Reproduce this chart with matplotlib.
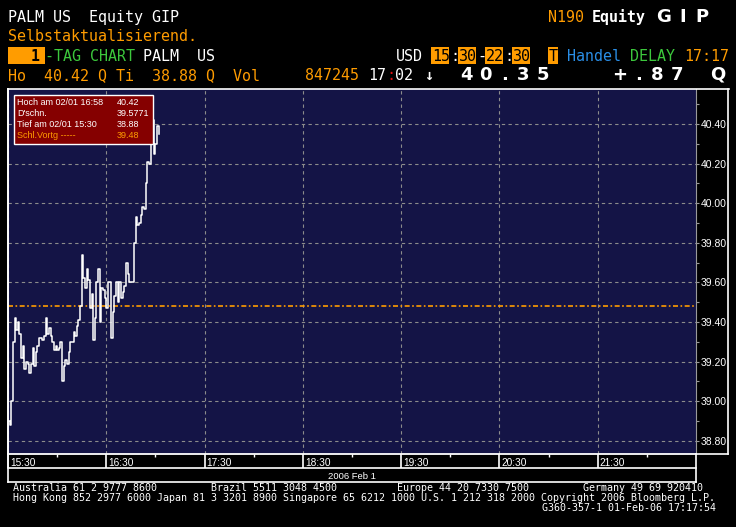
import matplotlib
matplotlib.use('Agg')
import matplotlib.pyplot as plt
from matplotlib import transforms
from matplotlib.lines import Line2D
from matplotlib.patches import Rectangle

# PALM US, one value per minute from 15:30 (minute 0) to 17:02
minutes = list(range(93))
prices = [38.90, 38.88, 39.00, 39.30, 39.42, 39.36, 39.40, 39.34, 39.22, 39.28,
          39.16, 39.20, 39.19, 39.14, 39.19, 39.27, 39.18, 39.25, 39.28, 39.32,
          39.32, 39.31, 39.33, 39.42, 39.34, 39.37, 39.33, 39.30, 39.26, 39.28,
          39.26, 39.27, 39.30, 39.10, 39.18, 39.21, 39.19, 39.25, 39.30, 39.30,
          39.35, 39.33, 39.38, 39.41, 39.48, 39.74, 39.62, 39.57, 39.67, 39.61,
          39.47, 39.54, 39.31, 39.42, 39.60, 39.67, 39.40, 39.57, 39.56, 39.52,
          39.47, 39.60, 39.60, 39.32, 39.45, 39.53, 39.60, 39.50, 39.60, 39.52,
          39.55, 39.58, 39.70, 39.64, 39.60, 39.60, 39.60, 39.80, 39.93, 39.89,
          39.90, 39.94, 39.98, 39.97, 40.10, 40.21, 40.20, 40.30, 40.42, 40.25,
          40.30, 40.39, 40.35]
prev_close = 39.48

y_ticks = [38.80, 39.00, 39.20, 39.40, 39.60, 39.80, 40.00, 40.20, 40.40]
y_minor = [38.90, 39.10, 39.30, 39.50, 39.70, 39.90, 40.10, 40.30, 40.50]
x_ticks = [0, 60, 120, 180, 240, 300, 360]
x_labels = ['15:30', '16:30', '17:30', '18:30', '19:30', '20:30', '21:30']
x_minor = [30, 90, 150, 210, 270, 330, 390]

legend_labels = ['Hoch am 02/01 16:58', "D'schn.", 'Tief am 02/01 15:30', 'Schl.Vortg -----']
legend_values = ['40.42', '39.5771', '38.88', '39.48']

ORANGE = '#ff9c00'
GREEN = '#3cc83c'
BLUE = '#2a8ee6'
NAVY = '#141446'
GRID = '#8c8c8c'
MONO = 'DejaVu Sans Mono'
SANS = 'Liberation Sans'

W, H = 736, 527
fig = plt.figure(figsize=(W / 100, H / 100), dpi=100, facecolor='black')


def fx(px):
    return px / W


def fy(py):
    return 1 - py / H


def put(px, py, s, color, size=10.8, weight='normal', family=MONO, ha='left'):
    fig.text(fx(px), fy(py), s, color=color, fontsize=size, fontweight=weight,
             family=family, ha=ha, va='baseline')


def spaced(px, py, s, step, color, size=13):
    # big terminal characters sit in fixed wide cells
    for i, c in enumerate(s):
        put(px + i * step + step / 2 - 3, py, c, color, size=size, weight='bold',
            family='DejaVu Sans', ha='center')


def box(x0, y0, x1, y1, color, edge='none'):
    fig.patches.append(Rectangle((fx(x0), fy(y1)), (x1 - x0) / W, (y1 - y0) / H,
                                 transform=fig.transFigure, facecolor=color,
                                 edgecolor=edge, lw=1))


def line(x0, y0, x1, y1, color='white', lw=1.2):
    fig.add_artist(Line2D([fx(x0), fx(x1)], [fy(y0), fy(y1)], color=color, lw=lw))


# header
put(8, 22, 'PALM US  Equity GIP', 'white')
put(548, 22, 'N190', ORANGE)
put(592, 22, 'Equity', 'white', weight='bold')
spaced(657, 22, 'GIP', 19, 'white')

put(8, 41, 'Selbstaktualisierend.', ORANGE)

box(8, 47, 45, 64, ORANGE)
put(31, 61, '1', 'black', weight='bold')
put(45, 61, '-TAG CHART', GREEN)
put(143, 61, 'PALM  US', 'white')
put(396, 61, 'USD', 'white')
for x0, s in [(431, '15'), (458, '30'), (485, '22'), (512, '30')]:
    box(x0, 47, x0 + 18, 64, ORANGE)
    put(x0 + 1, 61, s, 'black')
put(450, 61, ':', 'white')
put(477, 61, '-', 'white')
put(504, 61, ':', 'white')
box(548, 47, 558, 64, ORANGE)
put(549, 61, 'T', 'black')
put(567, 61, 'Handel', BLUE)
put(630, 61, 'DELAY', GREEN)
put(684, 61, '17:17', ORANGE)

put(8, 80, 'Ho  40.42 Q Ti  38.88 Q  Vol', ORANGE)
put(305, 80, '847245', ORANGE)
put(368, 80, '17', 'white')
put(386, 80, ':', '#e01010')
put(395, 80, '02', 'white')
put(424, 80, '\u2193', 'white', weight='bold')
spaced(460, 80, '40.35', 19, 'white')
spaced(613, 80, '+.87', 19, 'white')
spaced(711, 80, 'Q', 19, 'white')

# chart
ax = fig.add_axes([fx(8), fy(454), (696 - 8) / W, (454 - 89) / H])
ax.set_facecolor(NAVY)
ax.set_xlim(0, 420)
ax.set_ylim(38.733, 40.577)

ax.plot(minutes, prices, drawstyle='steps-post', color='white', lw=1.1, zorder=3)
ax.axhline(prev_close, color=ORANGE, lw=1.2, linestyle=(0, (3, 1.5, 1, 1.5)), zorder=2)

ax.set_xticks(x_ticks)
ax.set_xticks(x_minor, minor=True)
ax.tick_params(axis='x', which='major', direction='out', length=10, width=1.2,
               color='white', labelbottom=False)
ax.tick_params(axis='x', which='minor', direction='out', length=1.8, width=1,
               color='white')

ax.yaxis.tick_right()
ax.set_yticks(y_ticks)
ax.set_yticklabels(['%.2f' % v for v in y_ticks], family=SANS)
ax.set_yticks(y_minor, minor=True)
ax.tick_params(axis='y', which='major', direction='out', length=2.5, width=0.8,
               color='#9a9a9a', labelcolor='white', labelsize=7.5, pad=1)
ax.tick_params(axis='y', which='minor', direction='out', length=2, width=0.8,
               color='#9a9a9a')
ax.grid(True, which='major', color=GRID, linestyle=(0, (3, 3)), lw=0.8)

for side in ['left', 'bottom']:
    ax.spines[side].set_color('white')
    ax.spines[side].set_linewidth(1.3)
ax.spines['right'].set_color('#9a9a9a')
ax.spines['top'].set_visible(False)

trans = transforms.blended_transform_factory(ax.transData, fig.transFigure)
trans = transforms.offset_copy(trans, fig=fig, x=2, y=0, units='dots')
for m, lab in zip(x_ticks, x_labels):
    ax.text(m, fy(466), lab, transform=trans, color='white', fontsize=7.3,
            family=SANS, ha='left', va='baseline')

# frames
line(8, 89, 729, 89)
line(8, 89, 8, 482)
line(728, 89, 728, 454)
line(696, 454, 728, 454)
line(8, 468, 696, 468)
line(8, 482, 696, 482)
line(696, 454, 696, 482)
put(352, 479, '2006 Feb 1', 'white', size=6.8, family=SANS, ha='center')

# legend box
box(14, 95, 153, 144, '#850000', edge='white')
for i, (lab, val) in enumerate(zip(legend_labels, legend_values)):
    c = ORANGE if i == 3 else 'white'
    put(17, 105 + i * 11, lab, c, size=6.5, family=SANS)
    put(117, 105 + i * 11, val, c, size=6.5, family=SANS)

# footer
put(13, 491, 'Australia 61 2 9777 8600', 'white', size=7.2)
put(211, 491, 'Brazil 5511 3048 4500', 'white', size=7.2)
put(397, 491, 'Europe 44 20 7330 7500', 'white', size=7.2)
put(583, 491, 'Germany 49 69 920410', 'white', size=7.2)
put(13, 501, 'Hong Kong 852 2977 6000 Japan 81 3 3201 8900 Singapore 65 6212 1000 '
    'U.S. 1 212 318 2000 Copyright 2006 Bloomberg L.P.', 'white', size=7.2)
put(542, 511, 'G360-357-1 01-Feb-06 17:17:54', 'white', size=7.2)

fig.savefig('out.png', dpi=100, facecolor='black')
